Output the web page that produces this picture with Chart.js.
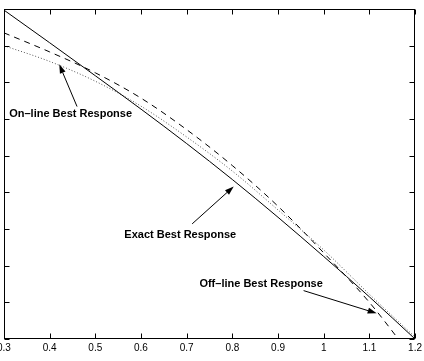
<!DOCTYPE html>
<html>
<head>
<meta charset="utf-8">
<script src="https://cdn.jsdelivr.net/npm/chart.js@4.4.0/dist/chart.umd.min.js"></script>
<style>
  html, body { margin: 0; padding: 0; background: #fff; overflow: hidden; }
  #wrap { position: relative; width: 424px; height: 361px; overflow: hidden; }
  #resp { position: absolute; left: -6px; top: 0; }
</style>
</head>
<body>
<div id="wrap"><canvas id="resp" width="431" height="361"></canvas></div>
<script>
// values
const xValues   = [0.3, 0.4, 0.5, 0.6, 0.7, 0.8, 0.9, 1.0, 1.1, 1.2];
const exactBR   = [0.897, 0.808, 0.718, 0.627, 0.533, 0.435, 0.332, 0.225, 0.115, 0.0];
const offlineBR = [0.835, 0.783, 0.726, 0.657, 0.571, 0.473, 0.362, 0.235, 0.100, -0.060];
const onlineBR  = [0.800, 0.757, 0.703, 0.635, 0.551, 0.458, 0.352, 0.243, 0.122, 0.005];

const xTickValues = [0.3, 0.4, 0.5, 0.6, 0.7, 0.8, 0.9, 1.0, 1.1, 1.2];
const xTickLabels = ['0.3', '0.4', '0.5', '0.6', '0.7', '0.8', '0.9', '1', '1.1', '1.2'];
const yTickValues = [0, 0.1, 0.2, 0.3, 0.4, 0.5, 0.6, 0.7, 0.8, 0.9];

// annotation labels and arrows, in data units
const noteText  = ['On\u2013line Best Response', 'Exact Best Response', 'Off\u2013line Best Response'];
const noteAt    = [[0.446, 0.614], [0.686, 0.284], [0.863, 0.149]];
const arrowFrom = [[0.460, 0.634], [0.712, 0.314], [0.956, 0.132]];
const arrowTo   = [[0.421, 0.749], [0.803, 0.416], [1.116, 0.070]];

function points(ys) {
    return xValues.map((x, i) => ({ x: x, y: ys[i] }));
}

const frameAndNotes = {
    id: 'frameAndNotes',
    afterDatasetsDraw(chart) {
        const ctx = chart.ctx;
        const a = chart.chartArea;
        const xs = chart.scales.x, ys = chart.scales.y;
        const L = Math.round(a.left) + 0.5, R = Math.round(a.right) - 0.5;
        const T = Math.round(a.top) + 0.5, B = Math.round(a.bottom) - 0.5;
        ctx.save();
        ctx.strokeStyle = '#000';
        ctx.lineWidth = 1;
        ctx.strokeRect(L, T, R - L, B - T);
        ctx.beginPath();
        xTickValues.forEach(v => {
            const px = Math.round(xs.getPixelForValue(v)) + 0.5;
            ctx.moveTo(px, B); ctx.lineTo(px, B - 5);
            ctx.moveTo(px, T); ctx.lineTo(px, T + 5);
        });
        yTickValues.forEach(v => {
            const py = Math.round(ys.getPixelForValue(v)) + 0.5;
            ctx.moveTo(L, py); ctx.lineTo(L + 5, py);
            ctx.moveTo(R, py); ctx.lineTo(R - 5, py);
        });
        ctx.stroke();

        // arrows
        ctx.fillStyle = '#000';
        arrowFrom.forEach((p, i) => {
            const x0 = xs.getPixelForValue(p[0]), y0 = ys.getPixelForValue(p[1]);
            const x1 = xs.getPixelForValue(arrowTo[i][0]), y1 = ys.getPixelForValue(arrowTo[i][1]);
            const ang = Math.atan2(y1 - y0, x1 - x0);
            const hl = 9, hw = 3;
            ctx.beginPath();
            ctx.moveTo(x0, y0);
            ctx.lineTo(x1 - hl * Math.cos(ang), y1 - hl * Math.sin(ang));
            ctx.stroke();
            ctx.beginPath();
            ctx.moveTo(x1, y1);
            ctx.lineTo(x1 - hl * Math.cos(ang) + hw * Math.sin(ang), y1 - hl * Math.sin(ang) - hw * Math.cos(ang));
            ctx.lineTo(x1 - hl * Math.cos(ang) - hw * Math.sin(ang), y1 - hl * Math.sin(ang) + hw * Math.cos(ang));
            ctx.closePath();
            ctx.fill();
        });

        // labels
        ctx.font = 'bold 11px "Liberation Sans", Arial, sans-serif';
        ctx.textAlign = 'center';
        ctx.textBaseline = 'middle';
        noteText.forEach((t, i) => {
            ctx.fillText(t, xs.getPixelForValue(noteAt[i][0]), ys.getPixelForValue(noteAt[i][1]));
        });
        ctx.restore();
    }
};

const ctx = document.getElementById('resp').getContext('2d');
new Chart(ctx, {
    type: 'line',
    data: {
        datasets: [{
            label: 'Exact Best Response',
            data: points(exactBR),
            borderColor: '#000',
            borderWidth: 1
        }, {
            label: 'Off-line Best Response',
            data: points(offlineBR),
            borderColor: '#000',
            borderWidth: 1,
            borderDash: [6, 5]
        }, {
            label: 'On-line Best Response',
            data: points(onlineBR),
            borderColor: '#555',
            borderWidth: 1,
            borderDash: [1, 2]
        }]
    },
    options: {
        responsive: false,
        animation: false,
        events: [],
        layout: { padding: { top: 9, bottom: 4, left: 0, right: 0 } },
        elements: {
            point: { radius: 0 },
            line: { cubicInterpolationMode: 'monotone', fill: false }
        },
        datasets: { line: { clip: 0 } },
        plugins: { legend: { display: false }, tooltip: { enabled: false } },
        scales: {
            x: {
                type: 'linear',
                min: 0.3,
                max: 1.2,
                afterBuildTicks: s => { s.ticks = xTickValues.map(v => ({ value: v })); },
                ticks: {
                    callback: (v, i) => xTickLabels[i],
                    font: { family: '"Liberation Sans", Arial, sans-serif', size: 10 },
                    color: '#000',
                    padding: 3,
                    maxRotation: 0,
                    autoSkip: false
                },
                grid: { display: false, drawTicks: false },
                border: { display: false }
            },
            y: {
                type: 'linear',
                min: 0,
                max: 0.9,
                afterBuildTicks: s => { s.ticks = yTickValues.map(v => ({ value: v })); },
                ticks: { display: false },
                grid: { display: false, drawTicks: false },
                border: { display: false }
            }
        }
    },
    plugins: [frameAndNotes]
});
</script>
</body>
</html>
